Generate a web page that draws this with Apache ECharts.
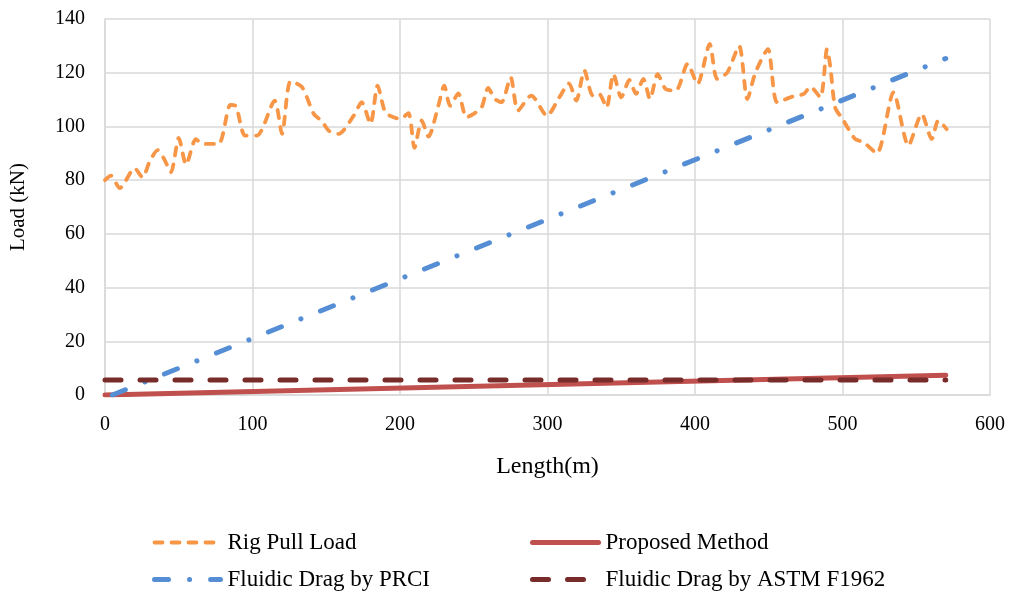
<!DOCTYPE html>
<html>
<head>
<meta charset="utf-8">
<script src="https://cdn.jsdelivr.net/npm/echarts@6/dist/echarts.min.js"></script>
<style>
  html, body { margin: 0; padding: 0; background: #ffffff; }
  #chart { width: 1016px; height: 596px; }
</style>
</head>
<body>
<div id="chart"></div>
<script>
// Measured rig pull load along the bore (length in m, load in kN)
const rigLength = [0, 4, 10, 14, 20, 25.5, 30, 35.7, 40, 44.7, 50, 55, 61.6, 66, 77, 85, 88.6, 95,
  103, 115, 120, 125.8, 133.6, 141.6, 147, 151.7, 158.4, 168.6, 174, 180, 184.8, 190, 195.6,
  200, 205.7, 209.8, 214.7, 219.3, 226, 230, 234, 239.5, 245, 249.7, 255.3, 259.8, 264.3, 268.8,
  275, 280, 289, 299.7, 308, 314.5, 319.5, 325, 330.7, 335, 340, 344.7, 350, 355.5, 360, 365,
  369.5, 374.7, 380, 387, 395, 401.7, 410, 415, 421.9, 429.9, 435.5, 441, 449.4, 455.7, 466,
  473.8, 478.2, 485, 489.5, 491.8, 495, 500, 508.6, 514.3, 523.3, 534.6, 544.7, 553.7, 560.5,
  565, 570.6];
const rigLoad = [80, 81.7, 77, 79.8, 84.5, 81, 86.6, 91.2, 88, 83, 95.7, 85.8, 95.3, 93.5, 93.5, 108, 107.7, 96.6,
  96.6, 109.6, 97.2, 116.8, 114.6, 104.6, 102, 98.4, 97.2, 104, 109, 101, 115.2, 105.2, 103.4,
  102.8, 104.9, 92, 102.2, 96.2, 107.7, 115.2, 107.7, 112.3, 103.4, 104.6, 107.1, 114.3, 110.2, 109,
  118.3, 105.9, 111.5, 104, 110.8, 116, 109.6, 120.8, 111.5, 112.1, 107.1, 119.5, 110.8, 117.3, 112.1, 117.7,
  110.2, 119.5, 114, 113.3, 123.3, 115.8, 130.7, 117.7, 120.1, 130, 110.2, 120.1, 128.8, 109, 111.1,
  112.1, 114.8, 110.8, 128.8, 122, 107.1, 102.8, 95.3, 94.1, 90, 112.7, 92.9, 104.6, 95.3,
  102.2, 99];

// Proposed method (linear growth of drag with length)
const proposedLength = [0, 570];
const proposedLoad = [0, 7.4];

// Fluidic drag estimated by PRCI
const prciLength = [5, 570];
const prciLoad = [0, 125.3];

// Fluidic drag estimated by ASTM F1962 (constant)
const astmLength = [0, 570];
const astmLoad = [5.6, 5.6];

const xTicks = { min: 0, max: 600, interval: 100 };
const yTicks = { min: 0, max: 140, interval: 20 };

const pairs = (xs, ys) => xs.map((x, i) => [x, ys[i]]);

const serif = '"Liberation Serif", "Times New Roman", serif';
const gridColor = '#d9d9d9';

// Line style of each series, reused for its legend entry
function lineStyleOf(name) {
  switch (name) {
    case 'Rig Pull Load': return { color: '#F79646', width: 3.8, type: [8, 9], cap: 'round' };
    case 'Proposed Method': return { color: '#C0504D', width: 5, type: 'solid', cap: 'round' };
    case 'Fluidic Drag by PRCI': return { color: '#558ED5', width: 5, type: [14, 21, 0.1, 21], cap: 'round' };
    default: return { color: '#772C2A', width: 5, type: [16, 19], cap: 'round' };
  }
}

function legendColumn(left, names) {
  return {
    type: 'plain',
    orient: 'vertical',
    left: left,
    top: 526,
    itemWidth: 66,
    itemHeight: 14,
    itemGap: 14,
    textStyle: { fontFamily: serif, fontSize: 23, color: '#000', padding: [0, 0, 0, 2] },
    data: names.map(name => ({ name: name, lineStyle: lineStyleOf(name), itemStyle: { opacity: 0 } }))
  };
}

function lineSeries(name, xs, ys, extra) {
  return Object.assign({
    name: name, type: 'line', data: pairs(xs, ys),
    showSymbol: false, symbol: 'none',
    lineStyle: lineStyleOf(name),
    itemStyle: { color: lineStyleOf(name).color }
  }, extra);
}

const chart = echarts.init(document.getElementById('chart'), null, { renderer: 'canvas' });

chart.setOption({
  backgroundColor: '#ffffff',
  animation: false,
  textStyle: { fontFamily: serif, color: '#000' },
  grid: { left: 105, right: 26, top: 19, bottom: 201, containLabel: false },
  xAxis: {
    type: 'value',
    min: xTicks.min, max: xTicks.max, interval: xTicks.interval,
    name: 'Length(m)', nameLocation: 'middle', nameGap: 60,
    nameTextStyle: { fontFamily: serif, fontSize: 24, color: '#000' },
    axisLine: { show: true, lineStyle: { color: gridColor, width: 1.5 } },
    axisTick: { show: false },
    axisLabel: { fontFamily: serif, fontSize: 20, color: '#000', margin: 20 },
    splitLine: { show: true, lineStyle: { color: gridColor, width: 1.5 } }
  },
  yAxis: {
    type: 'value',
    min: yTicks.min, max: yTicks.max, interval: yTicks.interval,
    name: 'Load (kN)', nameLocation: 'middle', nameGap: 76, nameRotate: 90,
    nameTextStyle: { fontFamily: serif, fontSize: 21, color: '#000' },
    axisLine: { show: true, lineStyle: { color: gridColor, width: 1.5 } },
    axisTick: { show: false },
    axisLabel: { fontFamily: serif, fontSize: 20, color: '#000', margin: 20 },
    splitLine: { show: true, lineStyle: { color: gridColor, width: 1.5 } }
  },
  legend: [
    legendColumn(147, ['Rig Pull Load', 'Fluidic Drag by PRCI']),
    legendColumn(525, ['Proposed Method', 'Fluidic Drag by ASTM F1962'])
  ],
  series: [
    lineSeries('Rig Pull Load', rigLength, rigLoad, { smooth: 0.25, z: 5 }),
    lineSeries('Proposed Method', proposedLength, proposedLoad, { z: 3 }),
    lineSeries('Fluidic Drag by PRCI', prciLength, prciLoad, { z: 4 }),
    lineSeries('Fluidic Drag by ASTM F1962', astmLength, astmLoad, { z: 4 })
  ]
});
</script>
</body>
</html>
